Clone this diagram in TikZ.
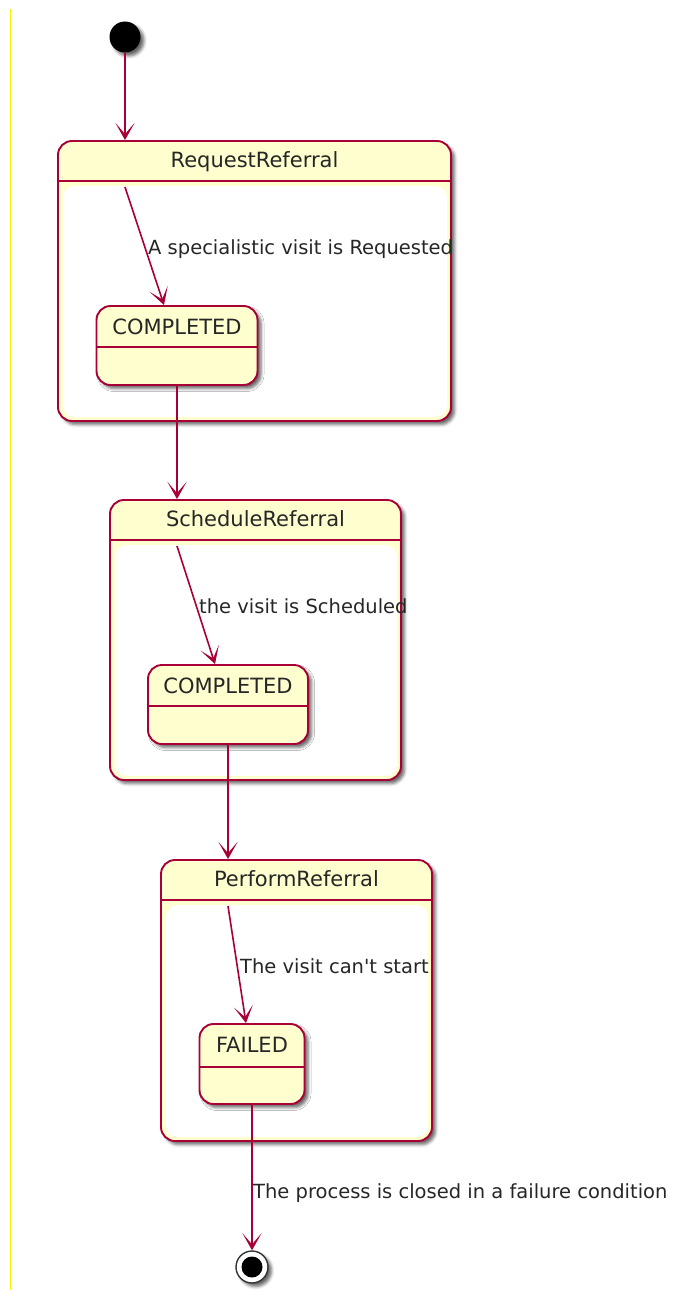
\documentclass[tikz,border=0pt]{standalone}
\usepackage{fontspec}
\setmainfont{DejaVu Sans}
\usetikzlibrary{arrows.meta,shadows.blur}
\definecolor{umlred}{HTML}{A80036}
\definecolor{umlfill}{HTML}{FEFECE}
\begin{document}
\begin{tikzpicture}[x=1pt,y=-1pt,
    umlshadow/.style={blur shadow={shadow xshift=3.5pt,shadow yshift=-3.5pt,shadow blur radius=3pt,shadow opacity=60}},
    state/.style={draw=umlred,fill=umlfill,line width=1.9pt,rounded corners=14pt,inner sep=0pt,umlshadow},
    body/.style={fill=white,rounded corners=11pt},
    header/.style={draw=umlred,line width=1.6pt},
    title/.style={font=\fontsize{21}{24}\selectfont,text=black!85,inner sep=0pt,anchor=base},
    trans/.style={font=\fontsize{19.5}{22}\selectfont,text=black!85,inner sep=0pt,anchor=base west},
    transarrow/.style={draw=umlred,line width=1.6pt,-{Stealth[length=17pt,width=19pt,inset=11pt]}}]
  \useasboundingbox (0,0) rectangle (679,1290);
  \draw[yellow,line width=1pt] (10,9) -- (10,1290);

  \node[circle,fill=black,minimum size=31pt,inner sep=0pt,umlshadow] (start) at (125,37) {};

  \node[state,minimum width=393pt,minimum height=280pt] (request) at (254.5,281) {};
  \fill[body] ([xshift=6pt,yshift=-46pt]request.north west) rectangle ([xshift=-5pt,yshift=5pt]request.south east);
  \draw[header] ([yshift=-41pt]request.north west) -- ([yshift=-41pt]request.north east);
  \node[title] (requesttitle) at ([yshift=-27pt]request.north) {RequestReferral};
  \coordinate (requestin) at (125,187);
  \node[state,minimum width=161pt,minimum height=79pt] (requestdone) at (177,345.5) {};
  \draw[header] ([yshift=-42pt]requestdone.north west) -- ([yshift=-42pt]requestdone.north east);
  \node[title] (requestdonetitle) at ([yshift=-29pt]requestdone.north) {COMPLETED};
  \node[trans] (requestlabel) at (148,254) {A specialistic visit is Requested};

  \node[state,minimum width=291pt,minimum height=280pt] (schedule) at (255.5,640) {};
  \fill[body] ([xshift=6pt,yshift=-46pt]schedule.north west) rectangle ([xshift=-5pt,yshift=5pt]schedule.south east);
  \draw[header] ([yshift=-41pt]schedule.north west) -- ([yshift=-41pt]schedule.north east);
  \node[title] (scheduletitle) at ([yshift=-27pt]schedule.north) {ScheduleReferral};
  \coordinate (schedulein) at (177,546);
  \node[state,minimum width=160pt,minimum height=79pt] (scheduledone) at (228,704.5) {};
  \draw[header] ([yshift=-42pt]scheduledone.north west) -- ([yshift=-42pt]scheduledone.north east);
  \node[title] (scheduledonetitle) at ([yshift=-29pt]scheduledone.north) {COMPLETED};
  \node[trans] (schedulelabel) at (199,613) {the visit is Scheduled};

  \node[state,minimum width=271pt,minimum height=281pt] (perform) at (296.5,1000.5) {};
  \fill[body] ([xshift=6pt,yshift=-46pt]perform.north west) rectangle ([xshift=-5pt,yshift=5pt]perform.south east);
  \draw[header] ([yshift=-41pt]perform.north west) -- ([yshift=-41pt]perform.north east);
  \node[title] (performtitle) at ([yshift=-27pt]perform.north) {PerformReferral};
  \coordinate (performin) at (228,906);
  \node[state,minimum width=105pt,minimum height=80pt] (performfail) at (252,1064) {};
  \draw[header] ([yshift=-44pt]performfail.north west) -- ([yshift=-44pt]performfail.north east);
  \node[title] (performfailtitle) at ([yshift=-29pt]performfail.north) {FAILED};
  \node[trans] (performlabel) at (240,973) {The visit can\textquotesingle t start};

  \node[circle,draw=black!80,fill=white,line width=1.4pt,minimum size=32pt,inner sep=0pt,umlshadow] (stop) at (252,1267) {};
  \node[circle,fill=black,minimum size=21pt,inner sep=0pt] (stopdot) at (stop) {};
  \node[trans] (stoplabel) at (253,1198) {The process is closed in a failure condition};

  \begin{scope}[transarrow]
    \draw (start) -- (start |- request.north);
    \draw (requestin) -- ([xshift=-13pt]requestdone.north);
    \draw (requestdone) -- (requestdone |- schedule.north);
    \draw (schedulein) -- ([xshift=-13pt]scheduledone.north);
    \draw (scheduledone) -- (scheduledone |- perform.north);
    \draw (performin) -- ([xshift=-6pt]performfail.north);
    \draw (performfail) -- (stop);
  \end{scope}
\end{tikzpicture}
\end{document}
